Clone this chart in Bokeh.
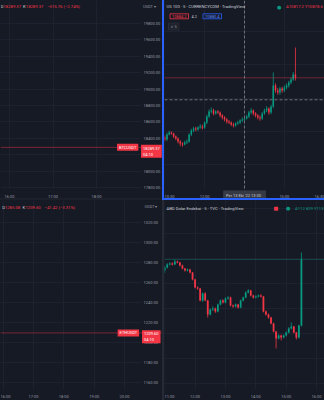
from bokeh.plotting import figure
from bokeh.models import (Range1d, FixedTicker, Span, Label, Spacer, BoxAnnotation,
                          NumeralTickFormatter, ColumnDataSource)
from bokeh.layouts import row, column
from bokeh.embed import file_html
from bokeh.resources import INLINE

BG = "#161a25"
GRID = "#1e2230"
TXT = "#9598a1"
HEAD = "#c9ccd4"
UP = "#089981"
DN = "#f23645"
BLUE = "#2962ff"
FONT = "Roboto"

# ---------------- data ----------------
# BTCUSDT (top-left, empty chart, last price only)
btc_price = 18289.37
btc_price_ticks = [17800, 18000, 18200, 18400, 18600, 18800, 19000, 19200, 19400, 19600, 19800]
btc_time_ticks = [16, 17, 18]
btc_time_labels = ["16:00", "17:00", "18:00"]
btc_header = ["D", "18289.37", "K", "18289.37", "\u2212515.76 (\u22122.74%)"]
btc_timer = "04:10"

# ETHUSDT (bottom-left)
eth_price = 1209.60
eth_price_ticks = [1160, 1180, 1200, 1220, 1240, 1260, 1280, 1300, 1320]
eth_time_ticks = [16, 17, 18, 19, 20]
eth_time_labels = ["16:00", "17:00", "18:00", "19:00", "20:00"]
eth_header = ["D", "1285.08", "K", "1209.60", "\u221241.42 (\u22123.31%)"]
eth_timer = "04:10"

# US 100, 5 min candles from 10:30 (top-right)
ndx_start = 10.5
ndx_open = [10790.9, 10787.9, 10795.4, 10798.4, 10796.9, 10792.4, 10789.4, 10784.9, 10781.9, 10780.4,
            10783.4, 10784.9, 10795.4, 10801.4, 10804.4, 10802.9, 10805.9, 10807.4, 10805.9, 10813.4,
            10822.4, 10829.9, 10831.4, 10826.9, 10829.9, 10828.4, 10823.9, 10820.9, 10817.9, 10814.9,
            10813.4, 10810.4, 10808.9, 10811.9, 10813.4, 10816.4, 10817.9, 10819.4, 10822.4, 10828.4,
            10831.4, 10826.9, 10823.9, 10820.9, 10819.4, 10826.9, 10831.4, 10834.4, 10828.4, 10837.4,
            10868.9, 10861.4, 10858.4, 10864.4, 10861.4, 10865.9, 10868.9, 10873.4, 10877.9, 10885.4]
ndx_close = [10787.9, 10795.4, 10798.4, 10796.9, 10792.4, 10789.4, 10784.9, 10781.9, 10780.4, 10783.4,
             10784.9, 10795.4, 10801.4, 10804.4, 10802.9, 10805.9, 10807.4, 10805.9, 10813.4, 10822.4,
             10829.9, 10831.4, 10826.9, 10829.9, 10828.4, 10823.9, 10820.9, 10817.9, 10814.9, 10813.4,
             10810.4, 10808.9, 10811.9, 10813.4, 10816.4, 10817.9, 10819.4, 10822.4, 10828.4, 10831.4,
             10826.9, 10823.9, 10820.9, 10819.4, 10826.9, 10831.4, 10834.4, 10828.4, 10837.4, 10868.9,
             10861.4, 10858.4, 10864.4, 10861.4, 10865.9, 10868.9, 10873.4, 10877.9, 10885.4, 10880.4]
ndx_high = [10794, 10798, 10801, 10800, 10798, 10794, 10791, 10787, 10784, 10786,
            10788, 10797, 10804, 10807, 10807, 10808, 10811, 10810, 10815, 10825,
            10833, 10836, 10834, 10832, 10832, 10830, 10826, 10823, 10820, 10817,
            10815, 10813, 10814, 10816, 10818, 10821, 10822, 10825, 10831, 10835,
            10833, 10829, 10826, 10824, 10829, 10834, 10838, 10836, 10840, 10888.4,
            10872, 10865, 10867, 10867, 10869, 10872, 10876, 10881, 10889, 10925.9]
ndx_low = [10785, 10786, 10794, 10795, 10790, 10787, 10782, 10778, 10777, 10779,
           10781, 10783, 10793, 10799, 10800, 10801, 10804, 10803, 10804, 10811,
           10820, 10827, 10824, 10825, 10826, 10821, 10818, 10815, 10812, 10811,
           10808, 10806, 10807, 10810, 10811, 10814, 10815, 10818, 10820, 10826,
           10824, 10821, 10818, 10816, 10817, 10825, 10829, 10825, 10826, 10835,
           10858, 10855, 10855, 10858, 10859, 10863, 10866, 10871, 10876, 10876.4]
ndx_last = 10880.4
ndx_cross_time = 13.5
ndx_cross_price = 10847.5
ndx_time_ticks = [10.5, 12, 15, 16.5]
ndx_time_labels = ["10:30", "12:00", "15:00", "16:30"]
ndx_grid_times = [10.5, 12, 13.5, 15, 16.5]
ndx_grid_prices = [10750, 10800, 10850, 10900, 10950]
ndx_title = "US 100 \u00b7 5 \u00b7 CURRENCYCOM \u00b7 TradingView"
ndx_ohlc = "A10817.2  Y10878.6"
ndx_sell, ndx_spread, ndx_buy = "10884.2", "4.2", "10880.4"
ndx_cross_label = "Per 13 Eki '22   13:30"

# ABD Dolar Endeksi, 5 min candles from 11:00 (bottom-right)
dxy_start = 11.0
dxy_open = [113.379, 113.409, 113.439, 113.449, 113.439, 113.469, 113.459, 113.429, 113.399, 113.379,
            113.389, 113.359, 113.289, 113.209, 113.199, 113.079, 113.149, 113.079, 112.939, 112.989,
            112.999, 112.969, 113.039, 113.079, 113.059, 113.099, 113.109, 113.029, 113.019, 113.039,
            113.009, 113.079, 113.109, 113.159, 113.179, 113.129, 113.109, 113.119, 113.129, 113.119,
            112.969, 112.939, 112.909, 112.849, 112.769, 112.699, 112.729, 112.709, 112.729, 112.759,
            112.799, 112.819, 112.759, 112.709, 112.829]
dxy_close = [113.409, 113.439, 113.449, 113.439, 113.469, 113.459, 113.429, 113.399, 113.379, 113.389,
             113.359, 113.289, 113.209, 113.199, 113.079, 113.149, 113.079, 112.939, 112.989, 112.999,
             112.969, 113.039, 113.079, 113.059, 113.099, 113.109, 113.029, 113.019, 113.039, 113.009,
             113.079, 113.109, 113.159, 113.179, 113.129, 113.109, 113.119, 113.129, 113.119, 112.969,
             112.939, 112.909, 112.849, 112.769, 112.699, 112.729, 112.709, 112.729, 112.759, 112.799,
             112.819, 112.759, 112.709, 112.829, 113.489]
dxy_high = [113.425, 113.452, 113.462, 113.461, 113.489, 113.478, 113.466, 113.438, 113.405, 113.399,
            113.395, 113.365, 113.296, 113.221, 113.205, 113.160, 113.162, 113.085, 112.999, 113.020,
            113.008, 113.048, 113.090, 113.092, 113.110, 113.121, 113.118, 113.040, 113.050, 113.046,
            113.088, 113.118, 113.170, 113.192, 113.186, 113.138, 113.130, 113.140, 113.142, 113.125,
            112.980, 112.948, 112.915, 112.856, 112.775, 112.742, 112.738, 112.740, 112.770, 112.812,
            112.859, 112.826, 112.765, 112.838, 113.559]
dxy_low = [113.355, 113.400, 113.430, 113.428, 113.432, 113.450, 113.420, 113.391, 113.368, 113.370,
           113.350, 113.281, 113.200, 113.186, 113.070, 113.065, 113.072, 112.909, 112.930, 112.975,
           112.955, 112.960, 113.030, 113.049, 113.050, 113.088, 113.020, 113.006, 113.010, 112.999,
           113.002, 113.070, 113.100, 113.150, 113.120, 113.098, 113.100, 113.108, 113.110, 112.960,
           112.928, 112.898, 112.840, 112.760, 112.599, 112.690, 112.680, 112.700, 112.720, 112.750,
           112.790, 112.750, 112.689, 112.700, 112.820]
dxy_last = 113.489
dxy_time_ticks = [11, 12, 13, 14, 15, 16]
dxy_time_labels = ["11:00", "12:00", "13:00", "14:00", "15:00", "16:00"]
dxy_grid_prices = [112.25, 112.5, 112.75, 113.0, 113.25, 113.5, 113.75, 114.0]
dxy_title = "ABD Dolar Endeksi \u00b7 5 \u00b7 TVC \u00b7 TradingView"
dxy_ohlc = "A112.829  Y113.559"


# ---------------- helpers ----------------
class Pane:
    """Maps window pixels of one panel to its data scale (two reference points per axis)."""

    def __init__(self, ax0, ay0, w, h, xref, yref):
        self.ax0, self.ay0, self.w, self.h = ax0, ay0, w, h
        self.xa, self.xv = xref[0], xref[1]
        self.kx = (xref[3] - xref[1]) / (xref[2] - xref[0])
        self.ya, self.yv = yref[0], yref[1]
        self.ky = (yref[3] - yref[1]) / (yref[2] - yref[0])

    def X(self, ax):
        return self.xv + (ax - self.xa) * self.kx

    def Y(self, ay):
        return self.yv + (ay - self.ya) * self.ky

    def xr(self):
        return (self.X(self.ax0), self.X(self.ax0 + self.w))

    def yr(self):
        return (self.Y(self.ay0 + self.h), self.Y(self.ay0))

    def dy(self, px):
        return -px * self.ky


def make_fig(pn, y_axis):
    p = figure(width=pn.w, height=pn.h,
               x_range=Range1d(*pn.xr()), y_range=Range1d(*pn.yr()),
               output_backend="svg", toolbar_location=None,
               x_axis_location="below", y_axis_location=("right" if y_axis else None),
               min_border=0, min_border_left=0, min_border_right=0,
               min_border_top=0, min_border_bottom=0,
               background_fill_color=BG, border_fill_color=BG, outline_line_color=None)
    for g in (p.xgrid[0], p.ygrid[0]):
        g.grid_line_color = GRID
        g.grid_line_width = 1
    return p


def style_axis(ax, standoff):
    ax.axis_line_color = None
    ax.major_tick_line_color = None
    ax.minor_tick_line_color = None
    ax.major_tick_out = 0
    ax.major_tick_in = 0
    ax.minor_tick_out = 0
    ax.minor_tick_in = 0
    ax.major_label_text_font_size = "4px"
    ax.major_label_text_color = TXT
    ax.major_label_text_font = FONT
    ax.major_label_standoff = standoff


def set_time_axis(p, pn, axis_y, ticks, labels, standoff, grid_ticks=None):
    ax = p.xaxis[0]
    ax.ticker = FixedTicker(ticks=ticks)
    ax.major_label_overrides = {t: l for t, l in zip(ticks, labels)}
    ax.fixed_location = pn.Y(axis_y)
    style_axis(ax, standoff)
    p.xgrid[0].ticker = FixedTicker(ticks=grid_ticks if grid_ticks is not None else ticks)
    p.add_layout(BoxAnnotation(top=pn.Y(axis_y), fill_color=BG, fill_alpha=1.0,
                               line_color=None, level="underlay"))


def set_price_axis(p, pn, axis_x, ticks):
    ax = p.yaxis[0]
    ax.ticker = FixedTicker(ticks=ticks)
    ax.formatter = NumeralTickFormatter(format="0.00")
    ax.fixed_location = pn.X(axis_x)
    style_axis(ax, 3)
    p.ygrid[0].ticker = FixedTicker(ticks=ticks)
    p.add_layout(BoxAnnotation(left=pn.X(axis_x), fill_color=BG, fill_alpha=1.0,
                               line_color=None, level="underlay"))


def lab(p, x, y, text, color=TXT, size="4px", align="left", baseline="middle",
        bg=None, border=None, pad=0, font=FONT):
    p.add_layout(Label(x=x, y=y, text=text, text_color=color, text_font_size=size,
                       text_align=align, text_baseline=baseline, text_font=font,
                       background_fill_color=bg, border_line_color=border,
                       border_line_width=0.8, padding=pad))


def header(p, pn, ay, parts, xs):
    cols = [HEAD, DN, HEAD, DN, DN]
    for txt, ax, c in zip(parts, xs, cols):
        lab(p, pn.X(ax), pn.Y(ay), txt, color=c, size="4.2px")


def candles(p, start, o, h, l, c, width):
    t = [start + i * 5 / 60 for i in range(len(c))]
    col = [UP if cc >= oo else DN for oo, cc in zip(o, c)]
    src = ColumnDataSource(dict(t=t, h=h, l=l, top=[max(a, b) for a, b in zip(o, c)],
                                bot=[min(a, b) for a, b in zip(o, c)], col=col))
    p.segment("t", "h", "t", "l", color="col", line_width=0.8, source=src)
    p.vbar(x="t", width=width, top="top", bottom="bot", fill_color="col",
           line_color=None, source=src)


# ---------------- top-left: BTCUSDT ----------------
tl = Pane(0, 0, 162, 198, (9, 16, 96, 18), (23, 19800, 187, 17800))
p_tl = make_fig(tl, True)
set_time_axis(p_tl, tl, 188, btc_time_ticks, btc_time_labels, 5)
set_price_axis(p_tl, tl, 140, btc_price_ticks)
p_tl.add_layout(Span(location=btc_price, dimension="width", line_color=DN,
                     line_alpha=0.45, line_width=1))
header(p_tl, tl, 6, btc_header, [0.3, 3.0, 22.6, 25.3, 46.7])
lab(p_tl, tl.X(142.5), tl.Y(5.5), "USDT \u25be", color=TXT)
lab(p_tl, tl.X(137.8), btc_price, "BTCUSDT", color="#ffffff", align="right", bg=DN, pad=(2, 1))
lab(p_tl, tl.X(140.5), btc_price + tl.dy(2.6), f"{btc_price:.2f}\n{btc_timer}",
    color="#ffffff", baseline="top", bg=DN, pad=(2, 1))

# ---------------- top-right: US 100 ----------------
tr = Pane(164, 0, 160, 198, (164.27, 10.5, 323.73, 16.5), (0, 10996.4, 188, 10714.4))
p_tr = make_fig(tr, False)
p_tr.ygrid[0].ticker = FixedTicker(ticks=ndx_grid_prices)
set_time_axis(p_tr, tr, 188, ndx_time_ticks, ndx_time_labels, 5, ndx_grid_times)
p_tr.add_layout(Span(location=ndx_last, dimension="width", line_color=DN,
                     line_alpha=0.4, line_width=1))
p_tr.add_layout(Span(location=ndx_cross_price, dimension="width", line_color="#6e717c",
                     line_dash="3 2", line_width=1))
p_tr.add_layout(Span(location=ndx_cross_time, dimension="height", line_color="#6e717c",
                     line_dash="3 2", line_width=1))
candles(p_tr, ndx_start, ndx_open, ndx_high, ndx_low, ndx_close, 0.058)
lab(p_tr, tr.X(166), tr.Y(6), ndx_title, color=HEAD, size="4.2px")
lab(p_tr, tr.X(276.5), tr.Y(6), "\u25cf", color=UP, size="5px", font="DejaVu Sans")
lab(p_tr, tr.X(285.5), tr.Y(6), ndx_ohlc, color=DN, size="4.2px")
lab(p_tr, tr.X(169.5), tr.Y(15.8), ndx_sell, color=DN, border=DN, pad=(2, 1))
lab(p_tr, tr.X(191), tr.Y(15.8), ndx_spread, color=HEAD)
lab(p_tr, tr.X(202.5), tr.Y(15.8), ndx_buy, color="#5b8cff", border=BLUE, pad=(2, 1))
lab(p_tr, tr.X(168), tr.Y(26), "\u2228 5", color=TXT, bg="#1e222d", border="#2a2e39",
    pad=(2, 1), font="DejaVu Sans", size="3.8px")
lab(p_tr, ndx_cross_time, tr.Y(194.5), ndx_cross_label, color=HEAD, align="center",
    bg="#363a45", pad=(3, 2))

# ---------------- bottom-left: ETHUSDT ----------------
bl = Pane(0, 200, 162, 200, (33, 17, 124, 20), (222, 1320, 382, 1160))
p_bl = make_fig(bl, True)
set_time_axis(p_bl, bl, 389, eth_time_ticks, eth_time_labels, 4)
set_price_axis(p_bl, bl, 140, eth_price_ticks)
p_bl.add_layout(Span(location=eth_price, dimension="width", line_color=DN,
                     line_alpha=0.45, line_width=1))
header(p_bl, bl, 207, eth_header, [1.7, 4.4, 22.0, 25.0, 44.0])
lab(p_bl, bl.X(144), bl.Y(206), "USDT \u25be", color=TXT)
lab(p_bl, bl.X(138.6), eth_price, "ETHUSDT", color="#ffffff", align="right", bg=DN, pad=(2, 1))
lab(p_bl, bl.X(141.5), eth_price + bl.dy(2.6), f"{eth_price:.2f}\n{eth_timer}",
    color="#ffffff", baseline="top", bg=DN, pad=(2, 1))

# ---------------- bottom-right: ABD Dolar Endeksi ----------------
br = Pane(164, 200, 160, 200, (164.2, 11, 316.1, 16), (200, 114.079, 389, 112.189))
p_br = make_fig(br, False)
p_br.ygrid[0].ticker = FixedTicker(ticks=dxy_grid_prices)
set_time_axis(p_br, br, 389, dxy_time_ticks, dxy_time_labels, 4)
p_br.add_layout(Span(location=dxy_last, dimension="width", line_color=UP,
                     line_alpha=0.35, line_width=1))
candles(p_br, dxy_start, dxy_open, dxy_high, dxy_low, dxy_close, 0.058)
lab(p_br, br.X(166), br.Y(207.5), dxy_title, color=HEAD, size="4.2px")
lab(p_br, br.X(273), br.Y(207.5), "\u25a0", color=DN, size="5px", font="DejaVu Sans")
lab(p_br, br.X(285.5), br.Y(207.5), "\u25cf", color=UP, size="5px", font="DejaVu Sans")
lab(p_br, br.X(294.5), br.Y(207.5), dxy_ohlc, color=UP, size="4.2px")

# ---------------- layout ----------------
blue_v = Spacer(width=2, height=198, styles={"background-color": BLUE})
blue_h = Spacer(width=162, height=2, styles={"background-color": BLUE})
sep_h = Spacer(width=162, height=2, styles={"background-color": "#1c202b"})
sep_v = Spacer(width=2, height=200, styles={"background-color": "#262a34"})

layout = column(row(p_tl, blue_v, p_tr), row(sep_h, blue_h), row(p_bl, sep_v, p_br),
                styles={"background-color": BG})

open("out.html", "w").write(file_html(layout, INLINE))
